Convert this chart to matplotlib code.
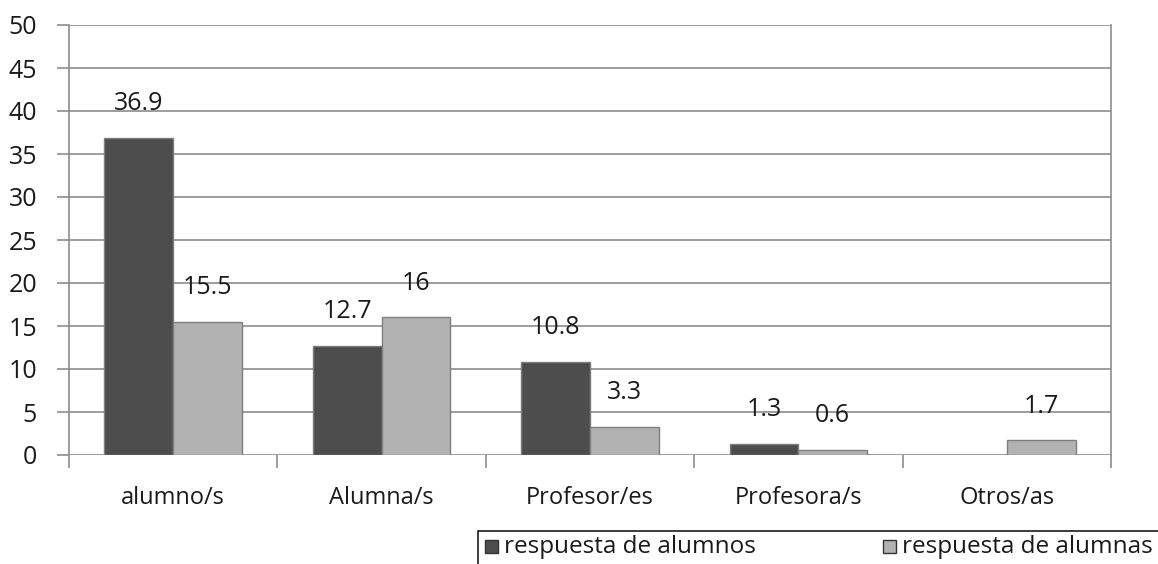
"""Bar chart: respuestas de alumnos / alumnas por categoría."""

import numpy as np
import matplotlib.pyplot as plt
from matplotlib.patches import Rectangle

categories = ["alumno/s", "Alumna/s", "Profesor/es", "Profesora/s", "Otros/as"]
alumnos = [36.9, 12.7, 10.8, 1.3, None]
alumnas = [15.5, 16, 3.3, 0.6, 1.7]
series_names = ["respuesta de alumnos", "respuesta de alumnas"]
y_ticks = [0, 5, 10, 15, 20, 25, 30, 35, 40, 45, 50]

DARK = "#4d4d4d"
LIGHT = "#b2b2b2"
GRID = "#8c8c8c"
EDGE = "#7f7f7f"
TXT = "#1a1a1a"

plt.rcParams["font.family"] = ["Open Sans", "DejaVu Sans"]

fig = plt.figure(figsize=(11.58, 5.64), dpi=100)
ax = fig.add_axes([69 / 1158, 109 / 564, 1042 / 1158, 430 / 564])

x = np.arange(len(categories))
w = 0.33

for j, (vals, col) in enumerate([(alumnos, DARK), (alumnas, LIGHT)]):
    xs = x + (j - 0.5) * w
    for i, v in enumerate(vals):
        if v is None:
            continue
        ax.bar(xs[i], v, width=w, color=col, edgecolor=EDGE, linewidth=1, zorder=3)
        ax.annotate(f"{v:g}", (xs[i], v), xytext=(0, 20),
                    textcoords="offset points", ha="center", va="baseline",
                    fontsize=18, color=TXT)

ax.set_xlim(-0.5, len(categories) - 0.5)
ax.set_ylim(0, 50)
ax.set_yticks(y_ticks)
ax.set_yticklabels([str(t) for t in y_ticks], fontsize=18, color=TXT)
ax.grid(axis="y", color=GRID, linewidth=1.2, zorder=0)
ax.tick_params(axis="y", length=9, width=1.2, color=GRID, pad=14)

ax.set_xticks(x)
ax.set_xticklabels(categories, fontsize=17, color=TXT)
ax.tick_params(axis="x", which="major", length=0, pad=22)
ax.set_xticks(np.arange(len(categories) + 1) - 0.5, minor=True)
ax.tick_params(axis="x", which="minor", length=9, width=1.2, color=GRID)

for side in ["top", "bottom"]:
    ax.spines[side].set_visible(False)
for side in ["left", "right"]:
    ax.spines[side].set_color(GRID)
    ax.spines[side].set_linewidth(1.2)

# legend box at the bottom right, cut by the image edge like the original
fig.patches.append(Rectangle((478 / 1158, -0.05), 0.7, 0.05 + 33 / 564,
                             transform=fig.transFigure, facecolor="white",
                             edgecolor=TXT, linewidth=1.2))
for name, col, xpos in zip(series_names, [DARK, LIGHT], [485, 883]):
    fig.patches.append(Rectangle((xpos / 1158, 11 / 564), 13 / 1158, 13 / 564,
                                 transform=fig.transFigure, facecolor=col,
                                 edgecolor="#333333", linewidth=1))
    fig.text((xpos + 19) / 1158, 17 / 564, name, fontsize=17.5, va="center",
             ha="left", color=TXT)

fig.savefig("out.png", dpi=100)
